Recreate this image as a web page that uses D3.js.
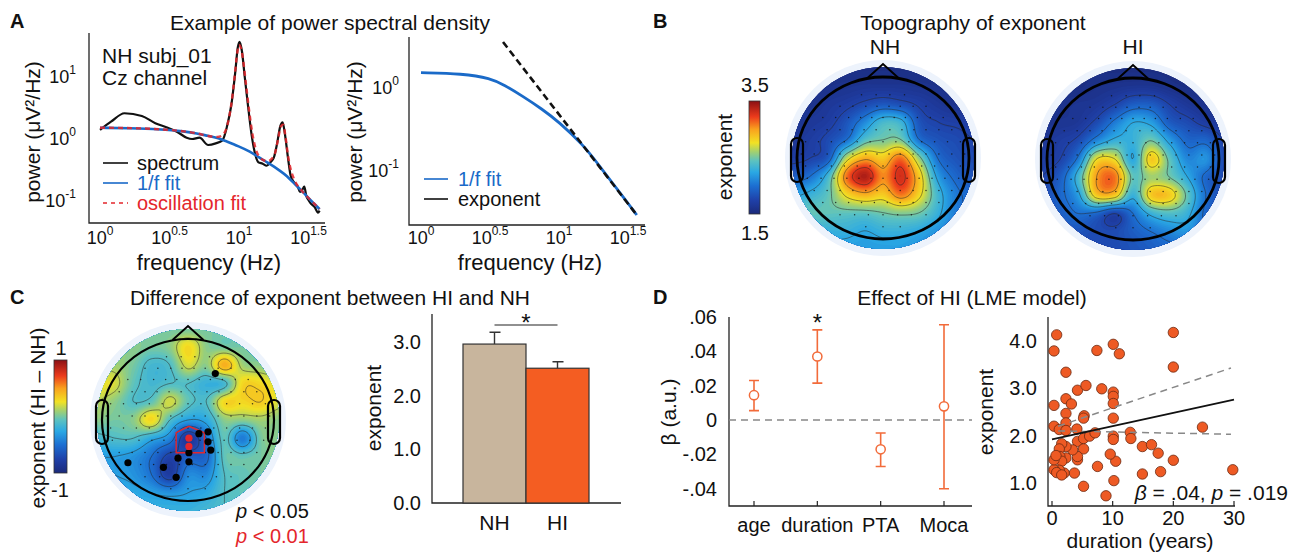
<!DOCTYPE html>
<html>
<head>
<meta charset="utf-8">
<script src="https://cdn.jsdelivr.net/npm/d3@7"></script>
<style>
  body { margin: 0; background: #fff; }
  text { font-family: "Liberation Sans", Arial, sans-serif; fill: #111; }
</style>
</head>
<body>
<div id="fig"></div>
<script>
// ---------------- data ----------------
// A left: example spectrum of one subject (Hz, uV^2/Hz)
var spectrumFreq = [1.0, 1.2, 1.5, 2.0, 2.5, 3.0, 3.6, 4.2, 4.6, 5.2, 6.0, 6.8, 7.6, 8.2, 8.8, 9.4, 9.8, 10.1, 10.5, 11.0, 11.6, 12.3, 13.0, 13.8, 14.8, 15.8, 16.8, 17.8, 18.8, 19.8, 20.6, 21.4, 22.5, 23.5, 24.5, 25.5, 26.5, 27.5, 28.5, 29.5, 30.5, 31.5, 33, 35, 37, 38];
var spectrumPow = [1.4, 1.9, 2.6, 2.35, 1.8, 1.55, 1.3, 1.05, 1.0, 1.05, 0.8, 0.85, 0.95, 1.6, 3.5, 12, 30, 37, 26, 10, 3.5, 1.2, 0.6, 0.42, 0.4, 0.37, 0.42, 0.5, 0.85, 1.6, 1.85, 1.2, 0.5, 0.26, 0.21, 0.19, 0.17, 0.14, 0.15, 0.17, 0.12, 0.105, 0.09, 0.08, 0.065, 0.07];
var aperiodicFreq = [1, 2, 3, 4, 5, 6, 7, 8, 10, 12, 14, 16, 18, 20, 22, 25, 28, 31, 34, 38];
var aperiodicPow = [1.52, 1.48, 1.41, 1.33, 1.23, 1.12, 1.05, 0.93, 0.76, 0.63, 0.5, 0.42, 0.355, 0.3, 0.257, 0.19, 0.15, 0.117, 0.095, 0.074];
var oscFreq = [1, 2, 3, 4, 5, 6, 7, 7.6, 8.2, 8.8, 9.3, 9.7, 10, 10.3, 10.7, 11.2, 11.8, 12.5, 13.3, 14.2, 15.2, 16.2, 17.2, 18.2, 19.2, 20, 20.8, 21.6, 22.5, 23.5, 25, 28, 31, 34, 38];
var oscPow = [1.52, 1.48, 1.41, 1.33, 1.23, 1.12, 1.08, 1.15, 1.6, 3.6, 10, 24, 33, 30, 19, 8, 3, 1.2, 0.65, 0.5, 0.45, 0.44, 0.48, 0.6, 1.05, 1.6, 1.7, 1.1, 0.55, 0.33, 0.22, 0.15, 0.117, 0.095, 0.074];
// A right: 1/f fit and its exponent (slope) line
var fitFreq = [1, 2, 3.2, 4, 5.5, 7.5, 10, 15, 18.8, 25, 30, 36.6];
var fitPow = [1.53, 1.49, 1.31, 1.09, 0.79, 0.56, 0.39, 0.205, 0.127, 0.068, 0.046, 0.0295];
var slopeFreq = [3.93, 36.6];
var slopePow = [3.58, 0.0295];
var freqTicks = [1, 3.1623, 10, 31.623];
var freqTickExp = ["0", "0.5", "1", "1.5"];
var powTicksLeft = [0.1, 1, 10];
var powTickExpLeft = ["-1", "0", "1"];
var powTicksRight = [0.1, 1];
var powTickExpRight = ["-1", "0"];

// B, C: topography values on an 11 x 11 grid (rows front->back, cols left->right, step 0.2 of head radius)
var nhGrid = [
  [1.55, 1.55, 1.55, 1.55, 1.55, 1.55, 1.55, 1.55, 1.55, 1.55, 1.55],
  [1.55, 1.55, 1.58, 1.6, 1.62, 1.62, 1.62, 1.6, 1.58, 1.55, 1.55],
  [1.6, 1.6, 1.65, 1.7, 1.78, 1.85, 1.8, 1.72, 1.65, 1.6, 1.6],
  [1.6, 1.65, 1.7, 1.85, 2.1, 2.35, 2.3, 1.85, 1.75, 1.72, 1.7],
  [1.65, 1.7, 1.8, 2.0, 2.4, 2.5, 2.5, 2.0, 1.85, 1.8, 1.75],
  [1.7, 1.75, 1.9, 2.65, 2.95, 2.85, 3.1, 2.55, 2.0, 1.85, 1.8],
  [1.9, 2.0, 2.35, 3.1, 3.4, 3.05, 3.3, 2.85, 2.2, 1.95, 1.85],
  [2.2, 2.3, 2.45, 2.8, 2.95, 2.85, 3.1, 2.8, 2.35, 2.05, 1.95],
  [2.5, 2.45, 2.45, 2.45, 2.45, 2.5, 2.55, 2.5, 2.3, 2.05, 1.95],
  [2.4, 2.35, 2.3, 2.3, 2.25, 2.3, 2.3, 2.25, 2.15, 2.05, 2.0],
  [2.3, 2.3, 2.25, 2.2, 2.2, 2.2, 2.2, 2.15, 2.1, 2.0, 1.95]
];
var hiGrid = [
  [1.55, 1.55, 1.55, 1.55, 1.55, 1.55, 1.55, 1.55, 1.55, 1.55, 1.55],
  [1.55, 1.55, 1.55, 1.58, 1.6, 1.62, 1.62, 1.58, 1.55, 1.55, 1.55],
  [1.6, 1.6, 1.62, 1.65, 1.75, 1.9, 1.9, 1.75, 1.65, 1.6, 1.6],
  [1.6, 1.62, 1.65, 1.8, 2.05, 2.25, 2.2, 1.9, 1.8, 1.7, 1.65],
  [1.65, 1.7, 1.8, 2.1, 2.3, 2.3, 2.5, 2.2, 1.95, 1.95, 1.75],
  [1.7, 1.75, 2.05, 2.75, 2.75, 2.25, 2.85, 2.45, 2.1, 2.15, 1.8],
  [1.75, 1.9, 2.35, 3.0, 3.1, 2.45, 2.6, 2.5, 2.25, 1.95, 1.8],
  [1.8, 1.95, 2.2, 2.85, 2.85, 2.3, 2.85, 2.85, 2.45, 2.0, 1.8],
  [1.85, 1.9, 2.0, 1.95, 1.75, 2.0, 2.3, 2.4, 2.3, 1.95, 1.8],
  [1.85, 1.85, 1.85, 1.8, 1.8, 1.9, 2.0, 2.1, 2.15, 1.95, 1.8],
  [1.8, 1.8, 1.8, 1.8, 1.8, 1.85, 1.9, 1.95, 1.95, 1.85, 1.8]
];
var diffGrid = [
  [0.0, 0.0, 0.0, 0.0, 0.0, 0.0, 0.0, 0.0, 0.0, 0.0, 0.0],
  [0.0, 0.05, 0.05, 0.0, 0.05, 0.3, 0.05, 0.0, 0.0, 0.0, 0.0],
  [0.1, 0.1, 0.0, -0.15, -0.1, 0.2, 0.05, 0.45, 0.1, 0.05, 0.0],
  [0.25, 0.2, -0.05, -0.15, -0.1, -0.1, -0.2, -0.15, 0.3, 0.3, 0.2],
  [0.15, 0.05, -0.1, -0.05, 0.2, -0.05, -0.1, 0.3, 0.3, 0.35, 0.2],
  [0.05, 0.0, 0.05, 0.3, -0.1, -0.3, -0.25, 0.05, 0.05, 0.1, 0.05],
  [-0.15, -0.1, -0.1, -0.25, -0.4, -0.85, -0.5, -0.05, -0.45, 0.0, 0.05],
  [-0.3, -0.3, -0.35, -0.5, -0.75, -0.6, -0.55, -0.05, -0.05, 0.0, 0.05],
  [-0.25, -0.3, -0.35, -0.5, -0.8, -0.4, -0.4, -0.1, -0.05, 0.0, 0.0],
  [-0.2, -0.2, -0.25, -0.3, -0.35, -0.3, -0.25, -0.1, -0.05, 0.0, 0.0],
  [-0.15, -0.15, -0.2, -0.2, -0.2, -0.2, -0.15, -0.1, -0.05, 0.0, 0.0]
];
// electrode montage, rows of [y, [x...]] inside the head outline
var montageRows = [
  [-0.78, [-0.25, -0.08, 0.08, 0.25]],
  [-0.64, [-0.5, -0.35, -0.2, -0.07, 0.07, 0.2, 0.35, 0.5]],
  [-0.5, [-0.7, -0.55, -0.4, -0.26, -0.13, 0, 0.13, 0.26, 0.4, 0.55, 0.7]],
  [-0.35, [-0.8, -0.65, -0.5, -0.36, -0.22, -0.08, 0.08, 0.22, 0.36, 0.5, 0.65, 0.8]],
  [-0.2, [-0.9, -0.75, -0.6, -0.45, -0.3, -0.15, 0, 0.15, 0.3, 0.45, 0.6, 0.75, 0.9]],
  [-0.05, [-0.95, -0.8, -0.65, -0.5, -0.35, -0.2, -0.07, 0.07, 0.2, 0.35, 0.5, 0.65, 0.8, 0.95]],
  [0.1, [-0.9, -0.75, -0.6, -0.45, -0.3, -0.15, 0, 0.15, 0.3, 0.45, 0.6, 0.75, 0.9]],
  [0.25, [-0.88, -0.72, -0.57, -0.42, -0.28, -0.14, 0, 0.14, 0.28, 0.42, 0.57, 0.72, 0.88]],
  [0.4, [-0.8, -0.65, -0.5, -0.35, -0.2, -0.07, 0.07, 0.2, 0.35, 0.5, 0.65, 0.8]],
  [0.55, [-0.7, -0.55, -0.4, -0.25, -0.1, 0.05, 0.2, 0.35, 0.5, 0.65]],
  [0.7, [-0.5, -0.33, -0.17, 0, 0.17, 0.33, 0.5]],
  [0.85, [-0.2, 0, 0.2]]
];
// C: significant channels
var sigChannels05 = [[0.30, -0.51], [-0.66, 0.47], [-0.27, 0.52], [-0.13, 0.63], [-0.11, 0.42], [0.01, 0.46], [0.01, 0.36], [0.12, 0.15], [0.22, 0.13], [0.22, 0.24], [0.25, 0.33]];
var sigChannels01 = [[0.01, 0.2], [0.01, 0.29]];
var roiOutline = [[-0.13, 0.14], [0.01, 0.07], [0.18, 0.14], [0.18, 0.36], [-0.13, 0.36]];

// C right: group means
var groups = ["NH", "HI"];
var groupMean = [2.96, 2.51];
var groupSem = [0.22, 0.12];
var barTicks = [0, 1, 2, 3];

// D left: LME estimates
var predictors = ["age", "duration", "PTA", "Moca"];
var betaEst = [0.0145, 0.037, -0.017, 0.008];
var betaLow = [0.0055, 0.0215, -0.027, -0.040];
var betaHigh = [0.023, 0.0525, -0.0075, 0.0555];
var betaTicks = [-0.04, -0.02, 0, 0.02, 0.04, 0.06];
var betaTickLabels = ["-.04", "-.02", "0", ".02", ".04", ".06"];

// D right: duration vs exponent
var durationYears = [0.77, 0.33, 2.3, 0.33, 0.33, 1.2, 2.3, 3.2, 2.3, 2.3, 2.3, 4.1, 4.2, 5.6, 5.3, 5.2, 4.2, 5.2, 6.2, 7.1, 7.4, 8.2, 10.1, 11.1, 10.1, 10.1, 10.1, 10.1, 10.1, 10.1, 12.9, 13.0, 14.9, 16.4, 17.5, 20, 20, 24.8, 20, 17.9, 14.9, 29.8, 10.2, 10.5, 9.6, 8.9, 7.5, 5.2, 5.2, 4.2, 4.2, 3.7, 3.4, 2.0, 2.3, 2.3, 1.6, 1.2, 1.3, 1.6, 1.2, 0.33, 0.33, 0.66, 0.77, 1.6];
var exponentVals = [4.13, 3.79, 3.34, 2.64, 2.20, 2.13, 2.78, 2.67, 2.47, 2.27, 2.11, 2.14, 2.96, 3.06, 2.42, 2.37, 1.88, 1.94, 1.99, 2.06, 3.80, 2.99, 3.93, 3.73, 2.92, 2.83, 2.68, 2.37, 1.99, 1.92, 2.07, 1.94, 1.77, 1.81, 1.63, 4.18, 3.45, 2.18, 1.48, 1.24, 1.19, 1.28, 1.05, 1.46, 1.61, 0.73, 1.35, 0.93, 1.72, 1.49, 1.56, 1.21, 1.70, 1.21, 1.53, 1.77, 1.83, 1.72, 1.56, 1.46, 1.27, 1.28, 1.49, 1.58, 1.22, 1.17];
var fitLineX = [0, 30];
var fitLineY = [1.92, 2.76];
var ciX = [1, 29.5];
var ciUpperY = [2.2, 3.43];
var ciLowerY = [2.1, 2.03];
var durTicks = [0, 10, 20, 30];
var expTicks = [1, 2, 3, 4];

// ---------------- styles ----------------
var blue = "#1a6ac8", red = "#e4262c";
var jetPos = [0, 0.12, 0.25, 0.37, 0.47, 0.55, 0.63, 0.75, 0.86, 1];
var jetCol = ["#1b2a7a", "#1f40a8", "#1c6fd2", "#2aa8e4", "#5cc2c0", "#a2d070", "#f2e224", "#f9a11e", "#ec3b1c", "#8b1014"];
var jet = d3.scaleLinear().domain(jetPos).range(jetCol).clamp(true);

var svg = d3.select("#fig").append("svg")
  .attr("width", 1298)
  .attr("height", 557);

function txt(x, y, s, opt) {
  opt = opt || {};
  var t = svg.append("text")
    .attr("x", x).attr("y", y)
    .attr("font-size", opt.size || 21)
    .attr("text-anchor", opt.anchor || "start")
    .text(s);
  if (opt.weight) t.attr("font-weight", opt.weight);
  if (opt.fill) t.style("fill", opt.fill);
  if (opt.baseline) t.attr("dominant-baseline", opt.baseline);
  return t;
}
function vlabel(x, y, s) {
  return svg.append("text")
    .attr("transform", `translate(${x},${y}) rotate(-90)`)
    .attr("text-anchor", "middle")
    .attr("dominant-baseline", "central")
    .attr("font-size", 21)
    .text(s);
}
function frame(x0, y0, x1, y1) {
  svg.append("path")
    .attr("d", `M${x0},${y0}V${y1}H${x1}`)
    .attr("fill", "none").attr("stroke", "#222").attr("stroke-width", 1.3);
}
function pow10(sel, exp) {
  sel.append("tspan").text("10");
  sel.append("tspan").attr("dy", -9).attr("font-size", 12).text(exp);
}

// ---------------- panel letters and titles ----------------
txt(10, 28, "A", {weight: "bold", size: 20});
txt(653, 28, "B", {weight: "bold", size: 20});
txt(10, 304, "C", {weight: "bold", size: 20});
txt(653, 304, "D", {weight: "bold", size: 20});
txt(330, 30, "Example of power spectral density", {anchor: "middle"});
txt(973, 30, "Topography of exponent", {anchor: "middle"});
txt(330, 305, "Difference of exponent between HI and NH", {anchor: "middle"});
txt(972, 305, "Effect of HI (LME model)", {anchor: "middle"});

// ---------------- A left: spectrum ----------------
var xA = d3.scaleLog().domain([1, 10]).range([100, 239]);
var yA = d3.scaleLog().domain([0.1, 10]).range([201, 77]);
frame(89, 33, 325, 223);
freqTicks.forEach(function(f, i) {
  pow10(txt(xA(f), 244, "", {anchor: "middle", size: 18}), freqTickExp[i]);
});
powTicksLeft.forEach(function(p, i) {
  pow10(txt(76, yA(p) + 6, "", {anchor: "end", size: 18}), powTickExpLeft[i]);
});
vlabel(32, 132, "power (μV²/Hz)");
txt(209, 270, "frequency (Hz)", {anchor: "middle", size: 22});

var lineA = d3.line().x(d => xA(d[0])).y(d => yA(d[1])).curve(d3.curveMonotoneX);
var smoothA = d3.line().x(d => xA(d[0])).y(d => yA(d[1])).curve(d3.curveBasis);
svg.append("path").datum(d3.zip(spectrumFreq, spectrumPow))
  .attr("d", lineA).attr("fill", "none").attr("stroke", "#111").attr("stroke-width", 2.2);
svg.append("path").datum(d3.zip(aperiodicFreq, aperiodicPow))
  .attr("d", smoothA).attr("fill", "none").attr("stroke", blue).attr("stroke-width", 2.6);
svg.append("path").datum(d3.zip(oscFreq, oscPow))
  .attr("d", lineA).attr("fill", "none").attr("stroke", red).attr("stroke-width", 2.4)
  .attr("stroke-dasharray", "5,4").attr("opacity", 0.85);

txt(102, 63, "NH subj_01");
txt(102, 85, "Cz channel");
var legA = [["spectrum", "#111", null], ["1/f fit", blue, null], ["oscillation fit", red, "4,4"]];
legA.forEach(function(l, i) {
  var y = 163 + i * 20;
  svg.append("line").attr("x1", 103).attr("x2", 128).attr("y1", y).attr("y2", y)
    .attr("stroke", l[1]).attr("stroke-width", 1.6).attr("stroke-dasharray", l[2]);
  txt(137, y, l[0], {baseline: "central", fill: l[1], size: 20});
});

// ---------------- A right: 1/f fit and exponent ----------------
var xR = d3.scaleLog().domain([1, 10]).range([421, 559]);
var yR = d3.scaleLog().domain([0.1, 1]).range([171, 88]);
frame(409, 37, 645, 225);
freqTicks.forEach(function(f, i) {
  pow10(txt(xR(f), 244, "", {anchor: "middle", size: 18}), freqTickExp[i]);
});
powTicksRight.forEach(function(p, i) {
  pow10(txt(399, yR(p) + 6, "", {anchor: "end", size: 18}), powTickExpRight[i]);
});
vlabel(354, 132, "power (μV²/Hz)");
txt(530, 270, "frequency (Hz)", {anchor: "middle", size: 22});
var smoothR = d3.line().x(d => xR(d[0])).y(d => yR(d[1])).curve(d3.curveBasis);
svg.append("path").datum(d3.zip(fitFreq, fitPow))
  .attr("d", smoothR).attr("fill", "none").attr("stroke", blue).attr("stroke-width", 2.8);
svg.append("path").datum(d3.zip(slopeFreq, slopePow))
  .attr("d", smoothR).attr("fill", "none").attr("stroke", "#111").attr("stroke-width", 2.6)
  .attr("stroke-dasharray", "7,4");
[["1/f fit", blue], ["exponent", "#111"]].forEach(function(l, i) {
  var y = 179 + i * 20;
  svg.append("line").attr("x1", 424).attr("x2", 448).attr("y1", y).attr("y2", y)
    .attr("stroke", l[1]).attr("stroke-width", 1.6);
  txt(458, y, l[0], {baseline: "central", fill: l[1], size: 20});
});

// ---------------- topography helper ----------------
function catmull(p0, p1, p2, p3, t) {
  return 0.5 * (2 * p1 + (-p0 + p2) * t + (2 * p0 - 5 * p1 + 4 * p2 - p3) * t * t + (-p0 + 3 * p1 - 3 * p2 + p3) * t * t * t);
}
function gridValue(grid, u, v) {
  var m = grid.length;
  var gx = (u + 1) / 2 * (m - 1), gy = (v + 1) / 2 * (m - 1);
  var ix = Math.floor(gx), iy = Math.floor(gy), tx = gx - ix, ty = gy - iy;
  function g(j, i) {
    j = Math.max(0, Math.min(m - 1, j));
    i = Math.max(0, Math.min(m - 1, i));
    return grid[j][i];
  }
  var rows = [-1, 0, 1, 2].map(function(dj) {
    return catmull(g(iy + dj, ix - 1), g(iy + dj, ix), g(iy + dj, ix + 1), g(iy + dj, ix + 2), tx);
  });
  return catmull(rows[0], rows[1], rows[2], rows[3], ty);
}

function drawTopo(id, cx, cy, grid, domain, levels, headWidth) {
  var R = 91, n = 120, ext = 1.04;
  var vals = new Array(n * n);
  for (var j = 0; j < n; j++) {
    for (var i = 0; i < n; i++) {
      var u = -ext + 2 * ext * (i + 0.5) / n, v = -ext + 2 * ext * (j + 0.5) / n;
      vals[j * n + i] = gridValue(grid, Math.max(-1, Math.min(1, u)), Math.max(-1, Math.min(1, v)));
    }
  }
  var color = d3.scaleLinear().domain(domain).range([0, 1]);
  var proj = d3.geoIdentity().scale(2 * ext * R / n).translate([cx - ext * R, cy - ext * R]);
  var path = d3.geoPath(proj);

  svg.append("circle").attr("cx", cx).attr("cy", cy).attr("r", R + 7).attr("fill", "#edf3fc");
  svg.append("clipPath").attr("id", id).append("circle").attr("cx", cx).attr("cy", cy).attr("r", R);
  var g = svg.append("g").attr("clip-path", `url(#${id})`);
  var lo = d3.min(vals), hi = d3.max(vals), step = (domain[1] - domain[0]) / 70;
  var bands = d3.range(Math.min(lo, domain[0]) - step, hi, step);
  g.selectAll("path.band")
    .data(d3.contours().size([n, n]).thresholds(bands)(vals))
    .join("path")
    .attr("class", "band")
    .attr("d", path)
    .attr("fill", d => jet(color(d.value + step / 2)));
  g.selectAll("path.iso")
    .data(d3.contours().size([n, n]).thresholds(levels)(vals))
    .join("path")
    .attr("class", "iso")
    .attr("d", path)
    .attr("fill", "none").attr("stroke", "#2a2a2a").attr("stroke-width", 0.7).attr("opacity", 0.75);

  // electrodes
  var hx = 86, hy = 81;
  montageRows.forEach(function(row) {
    row[1].forEach(function(u) {
      svg.append("circle").attr("cx", cx + u * hx).attr("cy", cy + row[0] * hy)
        .attr("r", 0.75).attr("fill", "#111").attr("opacity", 0.8);
    });
  });
  // head outline, nose, ears
  svg.append("ellipse").attr("cx", cx).attr("cy", cy).attr("rx", hx).attr("ry", hy)
    .attr("fill", "none").attr("stroke", "#000").attr("stroke-width", headWidth);
  svg.append("path").attr("d", `M${cx - 15.5},${cy - 80}L${cx},${cy - 94}L${cx + 15.5},${cy - 80}`)
    .attr("fill", "none").attr("stroke", "#000").attr("stroke-width", 2);
  [-1, 1].forEach(function(sd) {
    var x0 = sd < 0 ? cx - hx - 6 : cx + hx - 6;
    svg.append("rect").attr("x", x0).attr("y", cy - 20).attr("width", 12).attr("height", 44)
      .attr("rx", 6).attr("fill", "none").attr("stroke", "#000").attr("stroke-width", 2.2);
  });
}

function colorbar(id, x, y0, y1, w) {
  var grad = svg.append("defs").append("linearGradient").attr("id", id)
    .attr("x1", 0).attr("x2", 0).attr("y1", 1).attr("y2", 0);
  jetPos.forEach(function(p, i) {
    grad.append("stop").attr("offset", p).attr("stop-color", jetCol[i]);
  });
  svg.append("rect").attr("x", x).attr("y", y0).attr("width", w).attr("height", y1 - y0)
    .attr("fill", `url(#${id})`).attr("stroke", "#333").attr("stroke-width", 0.8);
}

// ---------------- B: topographies ----------------
var levelsB = [1.75, 2.0, 2.25, 2.5, 2.75, 3.0, 3.25];
drawTopo("clipNH", 883, 158, nhGrid, [1.5, 3.5], levelsB, 2.8);
drawTopo("clipHI", 1133, 159, hiGrid, [1.5, 3.5], levelsB, 2.8);
txt(885, 54, "NH", {anchor: "middle"});
txt(1133, 54, "HI", {anchor: "middle"});
colorbar("cbB", 749, 101, 214, 11);
txt(755, 92, "3.5", {anchor: "middle", size: 20});
txt(755, 240, "1.5", {anchor: "middle", size: 20});
vlabel(724, 157, "exponent");

// ---------------- C left: difference topography ----------------
drawTopo("clipC", 188, 420, diffGrid, [-1, 1], [-0.7, -0.5, -0.3, -0.1, 0.15, 0.35, 0.55], 2.2);
colorbar("cbC", 54, 360, 473, 13);
txt(61, 355, "1", {anchor: "middle", size: 20});
txt(60, 497, "-1", {anchor: "middle", size: 20});
vlabel(37, 418, "exponent (HI – NH)");
svg.append("polygon")
  .attr("points", roiOutline.map(p => [188 + p[0] * 91, 420 + p[1] * 91].join(",")).join(" "))
  .attr("fill", "none").attr("stroke", red).attr("stroke-width", 1.4);
svg.selectAll("circle.sig05").data(sigChannels05).join("circle").attr("class", "sig05")
  .attr("cx", d => 188 + d[0] * 91).attr("cy", d => 420 + d[1] * 91).attr("r", 3.6).attr("fill", "#000");
svg.selectAll("circle.sig01").data(sigChannels01).join("circle").attr("class", "sig01")
  .attr("cx", d => 188 + d[0] * 91).attr("cy", d => 420 + d[1] * 91).attr("r", 3.6).attr("fill", red);
var p1 = txt(236, 518, "", {size: 20});
p1.append("tspan").attr("font-style", "italic").text("p");
p1.append("tspan").text(" < 0.05");
var p2 = txt(236, 543, "", {size: 20}).style("fill", red);
p2.append("tspan").attr("font-style", "italic").text("p");
p2.append("tspan").text(" < 0.01");

// ---------------- C right: bars ----------------
var yBar = d3.scaleLinear().domain([0, 3.52]).range([503, 314]);
var xBar = d3.scaleBand().domain(groups).range([463, 589]).padding(0);
frame(432, 314, 621, 503);
barTicks.forEach(function(t) {
  txt(421, yBar(t) + 7, t.toFixed(1), {anchor: "end", size: 20});
});
svg.selectAll("rect.bar").data(groups).join("rect").attr("class", "bar")
  .attr("x", d => xBar(d)).attr("width", xBar.bandwidth())
  .attr("y", (d, i) => yBar(groupMean[i])).attr("height", (d, i) => yBar(0) - yBar(groupMean[i]))
  .attr("fill", (d, i) => i === 0 ? "#c8b59d" : "#f45d22")
  .attr("stroke", "#333").attr("stroke-width", 1.2);
groups.forEach(function(gname, i) {
  var cxb = xBar(gname) + xBar.bandwidth() / 2;
  var top = yBar(groupMean[i] + groupSem[i]);
  svg.append("path")
    .attr("d", `M${cxb},${yBar(groupMean[i])}V${top}M${cxb - 5},${top}H${cxb + 6}`)
    .attr("stroke", "#333").attr("stroke-width", 1.4).attr("fill", "none");
  txt(cxb, 530, gname, {anchor: "middle"});
});
var nhC = xBar("NH") + xBar.bandwidth() / 2, hiC = xBar("HI") + xBar.bandwidth() / 2;
svg.append("line").attr("x1", nhC).attr("x2", hiC).attr("y1", 325).attr("y2", 325)
  .attr("stroke", "#222").attr("stroke-width", 1.2);
txt((nhC + hiC) / 2, 331, "*", {anchor: "middle", size: 24});
vlabel(373, 408, "exponent");

// ---------------- D left: LME betas ----------------
var yBeta = d3.scaleLinear().domain([-0.05, 0.06]).range([506, 317]);
var xCat = d3.scalePoint().domain(predictors).range([754, 944]);
frame(729, 317, 972, 506);
betaTicks.forEach(function(t, i) {
  txt(717, yBeta(t) + 7, betaTickLabels[i], {anchor: "end", size: 20});
});
svg.append("line").attr("x1", 729).attr("x2", 972).attr("y1", yBeta(0)).attr("y2", yBeta(0))
  .attr("stroke", "#888").attr("stroke-width", 1.5).attr("stroke-dasharray", "7,5");
predictors.forEach(function(p, i) {
  var x = xCat(p);
  svg.append("line").attr("x1", x).attr("x2", x).attr("y1", 506).attr("y2", 501)
    .attr("stroke", "#222").attr("stroke-width", 1.2);
  svg.append("path")
    .attr("d", `M${x - 5},${yBeta(betaHigh[i])}H${x + 5}M${x},${yBeta(betaHigh[i])}V${yBeta(betaLow[i])}M${x - 5},${yBeta(betaLow[i])}H${x + 5}`)
    .attr("fill", "none").attr("stroke", "#f26b3a").attr("stroke-width", 1.6);
  svg.append("circle").attr("cx", x).attr("cy", yBeta(betaEst[i])).attr("r", 4.6)
    .attr("fill", "#fff").attr("stroke", "#f26b3a").attr("stroke-width", 1.5);
  txt(x, 532, p, {anchor: "middle", size: 20});
});
txt(xCat("duration"), 331, "*", {anchor: "middle", size: 24});
vlabel(668, 412, "β (a.u.)");

// ---------------- D right: scatter ----------------
var xDur = d3.scaleLinear().domain([0, 30]).range([1052, 1234]);
var yExp = d3.scaleLinear().domain([1, 4]).range([483, 341]);
frame(1048, 317, 1235, 506);
durTicks.forEach(function(t) {
  svg.append("line").attr("x1", xDur(t)).attr("x2", xDur(t)).attr("y1", 506).attr("y2", 501)
    .attr("stroke", "#222").attr("stroke-width", 1.2);
  txt(xDur(t), 525, t, {anchor: "middle", size: 20});
});
expTicks.forEach(function(t) {
  txt(1037, yExp(t) + 7, t.toFixed(1), {anchor: "end", size: 20});
});
svg.selectAll("circle.pt").data(d3.zip(durationYears, exponentVals)).join("circle").attr("class", "pt")
  .attr("cx", d => xDur(d[0])).attr("cy", d => yExp(d[1])).attr("r", 5.2)
  .attr("fill", "#ee5a24").attr("stroke", "#6b2a12").attr("stroke-width", 0.8);
var lineD = d3.line().x(d => xDur(d[0])).y(d => yExp(d[1]));
svg.append("path").datum(d3.zip(ciX, ciUpperY)).attr("d", lineD)
  .attr("stroke", "#888").attr("stroke-width", 1.5).attr("stroke-dasharray", "7,5").attr("fill", "none");
svg.append("path").datum(d3.zip(ciX, ciLowerY)).attr("d", lineD)
  .attr("stroke", "#888").attr("stroke-width", 1.5).attr("stroke-dasharray", "7,5").attr("fill", "none");
svg.append("path").datum(d3.zip(fitLineX, fitLineY)).attr("d", lineD)
  .attr("stroke", "#111").attr("stroke-width", 1.8).attr("fill", "none");
var st = txt(1288, 500, "", {anchor: "end", size: 21});
st.append("tspan").attr("font-style", "italic").text("β");
st.append("tspan").text(" = .04, ");
st.append("tspan").attr("font-style", "italic").text("p");
st.append("tspan").text(" = .019");
vlabel(985, 412, "exponent");
txt(1140, 548, "duration (years)", {anchor: "middle"});
</script>
</body>
</html>
